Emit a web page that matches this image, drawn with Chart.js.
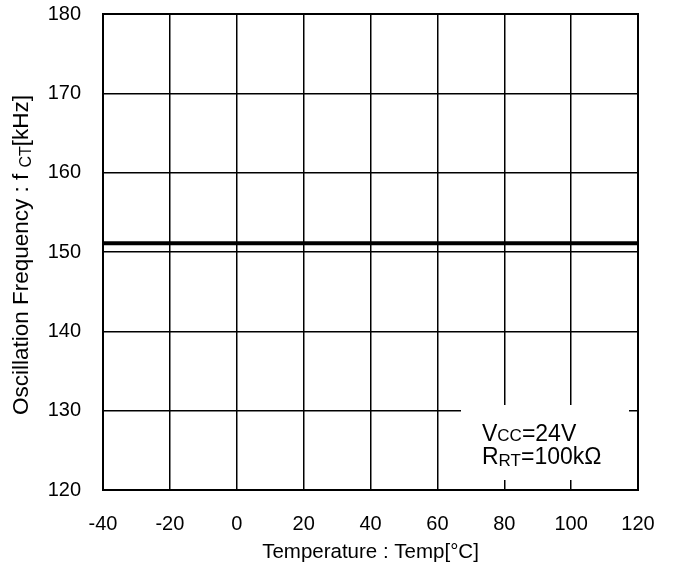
<!DOCTYPE html>
<html><head><meta charset="utf-8">
<script src="https://cdn.jsdelivr.net/npm/chart.js@4"></script>
<style>html,body{margin:0;padding:0;background:#fff}#wrap{width:673px;height:567px}</style>
</head><body><div id="wrap"><canvas id="c" width="673" height="567"></canvas></div>
<script>
// ---- data ----
const temps = [-40, -20, 0, 20, 40, 60, 80, 100, 120];
const freq  = [151.1, 151.1, 151.1, 151.1, 151.1, 151.1, 151.1, 151.1, 151.1];
const xMin = -40, xMax = 120, xStep = 20;
const yMin = 120, yMax = 180, yStep = 10;
const xTitle = 'Temperature : Temp[°C]';
const yTitleRuns = [['Oscillation Frequency : f ', 0], ['CT', 1], ['[kHz]', 0]];
const legendRuns1 = [['V', 0], ['CC', 1], ['=24V', 0]];
const legendRuns2 = [['R', 0], ['RT', 1], ['=100kΩ', 0]];

const FONT = '"Liberation Sans", Arial, Helvetica, sans-serif';

function runsWidth(ctx, runs, size, subSize) {
  let w = 0;
  for (const [t, sub] of runs) { ctx.font = (sub ? subSize : size) + 'px ' + FONT; w += ctx.measureText(t).width; }
  return w;
}
function drawRuns(ctx, runs, x, y, size, subSize, drop) {
  for (const [t, sub] of runs) {
    ctx.font = (sub ? subSize : size) + 'px ' + FONT;
    ctx.fillText(t, x, y + (sub ? drop : 0));
    x += ctx.measureText(t).width;
  }
}

const decor = {
  id: 'decor',
  beforeDatasetsDraw(chart) {
    const ctx = chart.ctx, a = chart.chartArea;
    ctx.save();
    ctx.fillStyle = '#fff';
    ctx.fillRect(a.right - 177, a.bottom - 85, 168, 75);
    ctx.restore();
  },
  afterDraw(chart) {
    const ctx = chart.ctx, a = chart.chartArea;
    ctx.save();
    ctx.strokeStyle = '#000';
    ctx.lineWidth = 2;
    ctx.strokeRect(a.left, a.top, a.right - a.left, a.bottom - a.top);
    ctx.fillStyle = '#000';
    ctx.textBaseline = 'alphabetic';
    ctx.textAlign = 'left';
    // legend text
    const lx = a.right - 156;
    drawRuns(ctx, legendRuns1, lx, a.bottom - 49, 23, 17, 0);
    drawRuns(ctx, legendRuns2, lx, a.bottom - 26, 23, 17, 2);
    // x title
    ctx.font = '20.5px ' + FONT;
    ctx.textAlign = 'center';
    ctx.fillText(xTitle, (a.left + a.right) / 2, 558);
    // y title
    ctx.textAlign = 'left';
    const w = runsWidth(ctx, yTitleRuns, 22.5, 16);
    ctx.translate(28, (a.top + a.bottom) / 2 + 3);
    ctx.rotate(-Math.PI / 2);
    drawRuns(ctx, yTitleRuns, -w / 2, 0, 22.5, 16, 3);
    ctx.restore();
  }
};

new Chart(document.getElementById('c'), {
  type: 'line',
  data: {
    datasets: [{
      data: temps.map((t, i) => ({ x: t, y: freq[i] })),
      borderColor: '#000',
      borderWidth: 4,
      pointRadius: 0,
      fill: false,
      tension: 0
    }]
  },
  options: {
    responsive: false,
    animation: false,
    devicePixelRatio: 1,
    layout: { padding: { top: 14, right: 35, left: 0, bottom: 0 } },
    plugins: { legend: { display: false }, tooltip: { enabled: false } },
    scales: {
      x: {
        type: 'linear', min: xMin, max: xMax,
        ticks: { stepSize: xStep, color: '#000', padding: 22, font: { size: 20, family: FONT } },
        grid: { color: '#000', lineWidth: 1.5, drawTicks: false },
        border: { display: false },
        afterFit(s) { s.height = 77; s.paddingLeft = 0; s.paddingRight = 0; }
      },
      y: {
        type: 'linear', min: yMin, max: yMax,
        ticks: { stepSize: yStep, color: '#000', padding: 22, font: { size: 20, family: FONT } },
        grid: { color: '#000', lineWidth: 1.5, drawTicks: false },
        border: { display: false },
        afterFit(s) { s.width = 103; s.paddingTop = 0; s.paddingBottom = 0; }
      }
    }
  },
  plugins: [decor]
});
</script>
</body></html>
